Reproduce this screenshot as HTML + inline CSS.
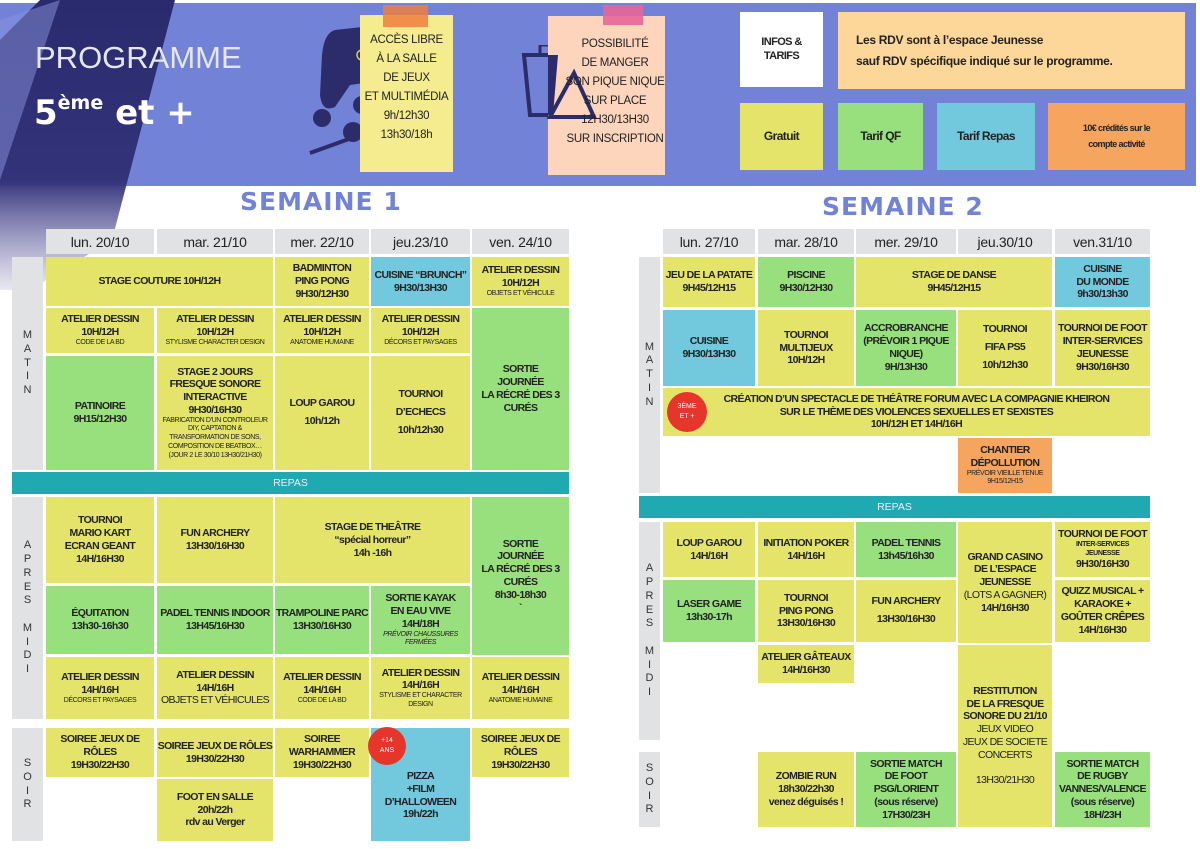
<!DOCTYPE html>
<html><head><meta charset="utf-8"><style>
*{margin:0;padding:0;box-sizing:border-box}
body{width:1200px;height:849px;position:relative;overflow:hidden;background:#fff;font-family:"Liberation Sans",sans-serif}
.a{position:absolute}
.c{position:absolute;display:flex;flex-direction:column;justify-content:center;align-items:center;text-align:center;font-weight:bold;font-size:10.5px;letter-spacing:-0.6px;line-height:1.22;color:#222}
.s{font-size:7px;font-weight:normal;letter-spacing:-0.4px}
.y{background:#e5e46a}.g{background:#98e07e}.b{background:#72c9dd}.o{background:#f5a55d}
.h{position:absolute;background:#e0e2e3;display:flex;align-items:center;justify-content:center;font-size:14px;letter-spacing:-0.3px;color:#222;top:229px;height:25px}
.side{position:absolute;background:#e0e2e3;display:flex;align-items:center;justify-content:center;text-align:center;font-size:11px;line-height:1.25;color:#333}
.rep{position:absolute;background:#1fa9b0;color:#eef;font-size:10.5px;display:flex;align-items:center;justify-content:center}
.note{position:absolute;font-size:11.5px;letter-spacing:-0.3px;line-height:19px;text-align:center;color:#222}
.sem{position:absolute;font-family:"DejaVu Sans",sans-serif;font-weight:900;font-size:25px;color:#7282d6;letter-spacing:1px}
.red{position:absolute;border-radius:50%;background:#e6362b;color:#fff;font-size:7px;display:flex;align-items:center;justify-content:center;text-align:center;line-height:1.5}
</style></head><body>
<div class="a" style="left:0;top:3px;width:1196px;height:183px;background:#7282d6"></div>
<svg class="a" style="left:0;top:0" width="200" height="300">
<defs><linearGradient id="gg" x1="0" y1="0" x2="0" y2="1"><stop offset="0" stop-color="#2a2a6e"/><stop offset="0.62" stop-color="#33337a"/><stop offset="1" stop-color="#6a67a8" stop-opacity="0.15"/></linearGradient></defs>
<polygon points="40,0 175,0 112,240 30,290 0,290 0,40" fill="url(#gg)"/>
<polygon points="0,20 60,0 0,180" fill="#8a93de" opacity="0.5"/>
</svg>
<div class="a" style="left:35px;top:40px;font-size:31px;color:#e4e6f2">PROGRAMME</div>
<div class="a" style="left:34px;top:92px;font-family:'DejaVu Sans',sans-serif;font-weight:bold;font-size:34px;color:#fff">5<sup style="font-size:19px;vertical-align:15px">ème</sup> et +</div>
<svg class="a" style="left:300px;top:15px" width="120" height="150">
<path d="M35,15 L80,10 Q95,8 100,30 L108,70 Q110,85 98,82 L85,65 L50,70 L35,92 Q22,98 20,80 L22,40 Q24,18 35,15Z" fill="#2c2c6a"/>
<circle cx="62" cy="40" r="5" fill="none" stroke="#d9cc5a" stroke-width="1.5"/>
<circle cx="78" cy="28" r="3" fill="none" stroke="#d9cc5a"/><circle cx="84" cy="36" r="3" fill="none" stroke="#d9cc5a"/><circle cx="76" cy="40" r="3" fill="none" stroke="#d9cc5a"/>
<line x1="10" y1="138" x2="110" y2="102" stroke="#2c2c6a" stroke-width="4"/>
<circle cx="22" cy="103" r="9" fill="#2c2c6a"/><circle cx="62" cy="90" r="9" fill="#2c2c6a"/><circle cx="80" cy="103" r="9" fill="#2c2c6a"/><circle cx="53" cy="117" r="10" fill="#2c2c6a"/>
</svg>
<div class="a" style="left:360px;top:15px;width:93px;height:157px;background:#f5ec8f"></div>
<div class="a" style="left:383px;top:5px;width:45px;height:22px;background:#ef7f3f;opacity:.85"></div>
<div class="note" style="left:360px;top:31px;width:93px">ACCÈS LIBRE<br>À LA SALLE<br>DE JEUX<br>ET MULTIMÉDIA<br>9h/12h30<br>13h30/18h</div>
<svg class="a" style="left:518px;top:45px" width="80" height="80">
<path d="M6,10 H40 L35,70 H12Z" fill="none" stroke="#2c2c6a" stroke-width="4"/>
<path d="M22,10 V0 H36" fill="none" stroke="#2c2c6a" stroke-width="3"/>
</svg>
<div class="a" style="left:548px;top:16px;width:117px;height:159px;background:#fdd5bd"></div>
<div class="a" style="left:603px;top:5px;width:40px;height:20px;background:#e8659a;opacity:.9"></div>
<svg class="a" style="left:518px;top:45px" width="80" height="80">
<path d="M30,10 L40,10 L35,70 H30Z" fill="#2c2c6a"/>
<path d="M32,72 L56,28 L76,72Z" fill="#fdd5bd" stroke="#2c2c6a" stroke-width="4"/>
</svg>
<div class="note" style="left:560px;top:35px;width:110px">POSSIBILITÉ<br>DE MANGER<br>SON PIQUE NIQUE<br>SUR PLACE<br>12H30/13H30<br>SUR INSCRIPTION</div>
<div class="c" style="left:740px;top:12px;width:83px;height:75px;background:#fff;font-size:11px">INFOS &amp;<br>TARIFS</div>
<div class="c" style="left:838px;top:12px;width:347px;height:77px;background:#fdd799;align-items:flex-start;padding-left:18px;text-align:left;font-size:12px;line-height:1.7;letter-spacing:-0.3px">Les RDV sont à l’espace Jeunesse<br>sauf RDV spécifique indiqué sur le programme.</div>
<div class="c y" style="left:740px;top:103px;width:83px;height:67px;font-size:12px">Gratuit</div>
<div class="c g" style="left:838px;top:103px;width:85px;height:67px;font-size:12px">Tarif QF</div>
<div class="c b" style="left:937px;top:103px;width:98px;height:67px;font-size:12px">Tarif Repas</div>
<div class="c o" style="left:1048px;top:103px;width:137px;height:67px;font-size:9px;line-height:1.7">10€ crédités sur le<br>compte activité</div>
<div class="sem" style="left:240px;top:187px">SEMAINE 1</div>
<div class="sem" style="left:822px;top:192px">SEMAINE 2</div>

<div class="h" style="left:46px;width:108px">lun. 20/10</div>
<div class="h" style="left:157px;width:116px">mar. 21/10</div>
<div class="h" style="left:275px;width:94px">mer. 22/10</div>
<div class="h" style="left:371px;width:99px">jeu.23/10</div>
<div class="h" style="left:472px;width:97px">ven. 24/10</div>
<div class="side" style="left:12px;top:257px;width:31px;height:213px">M<br>A<br>T<br>I<br>N</div>
<div class="c y" style="left:46px;top:257px;width:227px;height:49px">STAGE COUTURE 10H/12H</div>
<div class="c y" style="left:275px;top:257px;width:94px;height:49px">BADMINTON<br>PING PONG<br>9H30/12H30</div>
<div class="c b" style="left:371px;top:257px;width:99px;height:49px">CUISINE “BRUNCH”<br>9H30/13H30</div>
<div class="c y" style="left:472px;top:257px;width:97px;height:49px">ATELIER DESSIN<br>10H/12H<span class="s">OBJETS ET VÉHICULE</span></div>
<div class="c y" style="left:46px;top:308px;width:108px;height:45px">ATELIER DESSIN<br>10H/12H<span class="s">CODE DE LA BD</span></div>
<div class="c y" style="left:157px;top:308px;width:116px;height:45px">ATELIER DESSIN<br>10H/12H<span class="s">STYLISME CHARACTER DESIGN</span></div>
<div class="c y" style="left:275px;top:308px;width:94px;height:45px">ATELIER DESSIN<br>10H/12H<span class="s">ANATOMIE HUMAINE</span></div>
<div class="c y" style="left:371px;top:308px;width:99px;height:45px">ATELIER DESSIN<br>10H/12H<span class="s">DÉCORS ET PAYSAGES</span></div>
<div class="c g" style="left:472px;top:308px;width:97px;height:162px">SORTIE<br>JOURNÉE<br>LA RÉCRÉ DES 3<br>CURÉS</div>
<div class="c g" style="left:46px;top:356px;width:108px;height:114px">PATINOIRE<br>9H15/12H30</div>
<div class="c y" style="left:157px;top:356px;width:116px;height:114px">STAGE 2 JOURS<br>FRESQUE SONORE<br>INTERACTIVE<br>9H30/16H30<span class="s" style="line-height:1.25">FABRICATION D’UN CONTROLEUR<br>DIY, CAPTATION &amp;<br>TRANSFORMATION DE SONS,<br>COMPOSITION DE BEATBOX…<br>(JOUR 2 LE 30/10 13H30/21H30)</span></div>
<div class="c y" style="left:275px;top:356px;width:94px;height:114px;line-height:1.7">LOUP GAROU<br>10h/12h</div>
<div class="c y" style="left:371px;top:356px;width:99px;height:114px;line-height:1.7">TOURNOI<br>D’ECHECS<br>10h/12h30</div>
<div class="rep" style="left:12px;top:472px;width:557px;height:22px">REPAS</div>
<div class="side" style="left:12px;top:497px;width:31px;height:222px">A<br>P<br>R<br>E<br>S<br><br>M<br>I<br>D<br>I</div>
<div class="c y" style="left:46px;top:497px;width:108px;height:86px">TOURNOI<br>MARIO KART<br>ECRAN GEANT<br>14H/16H30</div>
<div class="c y" style="left:157px;top:497px;width:116px;height:86px">FUN ARCHERY<br>13H30/16H30</div>
<div class="c y" style="left:275px;top:497px;width:195px;height:86px;justify-content:flex-start;padding-top:24px">STAGE DE THEÂTRE<br>“spécial horreur”<br>14h -16h</div>
<div class="c g" style="left:472px;top:497px;width:97px;height:158px">SORTIE<br>JOURNÉE<br>LA RÉCRÉ DES 3<br>CURÉS<br>8h30-18h30<br>`</div>
<div class="c g" style="left:46px;top:586px;width:108px;height:68px">ÉQUITATION<br>13h30-16h30</div>
<div class="c g" style="left:157px;top:586px;width:116px;height:68px">PADEL TENNIS INDOOR<br>13H45/16H30</div>
<div class="c g" style="left:275px;top:586px;width:94px;height:68px">TRAMPOLINE PARC<br>13H30/16H30</div>
<div class="c g" style="left:371px;top:586px;width:99px;height:68px">SORTIE KAYAK<br>EN EAU VIVE<br>14H/18H<span class="s" style="font-style:italic">PRÉVOIR CHAUSSURES<br>FERMÉES</span></div>
<div class="c y" style="left:46px;top:657px;width:108px;height:62px">ATELIER DESSIN<br>14H/16H<span class="s">DÉCORS ET PAYSAGES</span></div>
<div class="c y" style="left:157px;top:657px;width:116px;height:62px">ATELIER DESSIN<br>14H/16H<br><span style="font-weight:normal">OBJETS ET VÉHICULES</span></div>
<div class="c y" style="left:275px;top:657px;width:94px;height:62px">ATELIER DESSIN<br>14H/16H<span class="s">CODE DE LA BD</span></div>
<div class="c y" style="left:371px;top:657px;width:99px;height:62px">ATELIER DESSIN<br>14H/16H<span class="s">STYLISME ET CHARACTER<br>DESIGN</span></div>
<div class="c y" style="left:472px;top:657px;width:97px;height:62px">ATELIER DESSIN<br>14H/16H<span class="s">ANATOMIE HUMAINE</span></div>
<div class="side" style="left:12px;top:728px;width:31px;height:113px">S<br>O<br>I<br>R</div>
<div class="c y" style="left:46px;top:728px;width:108px;height:49px">SOIREE JEUX DE RÔLES<br>19H30/22H30</div>
<div class="c y" style="left:157px;top:728px;width:116px;height:49px">SOIREE JEUX DE RÔLES<br>19H30/22H30</div>
<div class="c y" style="left:275px;top:728px;width:94px;height:49px">SOIREE<br>WARHAMMER<br>19H30/22H30</div>
<div class="c b" style="left:371px;top:728px;width:99px;height:113px;padding-top:22px">PIZZA<br>+FILM<br>D’HALLOWEEN<br>19h/22h</div>
<div class="c y" style="left:472px;top:728px;width:97px;height:49px">SOIREE JEUX DE<br>RÔLES<br>19H30/22H30</div>
<div class="c y" style="left:157px;top:779px;width:116px;height:62px">FOOT EN SALLE<br>20h/22h<br>rdv au Verger</div>
<div class="red" style="left:368px;top:727px;width:38px;height:38px">+14<br>ANS</div>

<div class="h" style="left:663px;width:92px">lun. 27/10</div>
<div class="h" style="left:758px;width:96px">mar. 28/10</div>
<div class="h" style="left:856px;width:100px">mer. 29/10</div>
<div class="h" style="left:958px;width:94px">jeu.30/10</div>
<div class="h" style="left:1055px;width:95px">ven.31/10</div>
<div class="side" style="left:639px;top:257px;width:21px;height:236px">M<br>A<br>T<br>I<br>N</div>
<div class="c y" style="left:663px;top:257px;width:92px;height:50px">JEU DE LA PATATE<br>9H45/12H15</div>
<div class="c g" style="left:758px;top:257px;width:96px;height:50px">PISCINE<br>9H30/12H30</div>
<div class="c y" style="left:856px;top:257px;width:196px;height:50px">STAGE DE DANSE<br>9H45/12H15</div>
<div class="c b" style="left:1055px;top:257px;width:95px;height:50px">CUISINE<br>DU MONDE<br>9h30/13h30</div>
<div class="c b" style="left:663px;top:310px;width:92px;height:76px">CUISINE<br>9H30/13H30</div>
<div class="c y" style="left:758px;top:310px;width:96px;height:76px">TOURNOI<br>MULTIJEUX<br>10H/12H</div>
<div class="c g" style="left:856px;top:310px;width:100px;height:76px">ACCROBRANCHE<br>(PRÉVOIR 1 PIQUE<br>NIQUE)<br>9H/13H30</div>
<div class="c y" style="left:958px;top:310px;width:94px;height:76px;line-height:1.7">TOURNOI<br>FIFA PS5<br>10h/12h30</div>
<div class="c y" style="left:1055px;top:310px;width:95px;height:76px">TOURNOI DE FOOT<br>INTER-SERVICES<br>JEUNESSE<br>9H30/16H30</div>
<div class="c y" style="left:663px;top:388px;width:487px;height:48px;padding-left:20px">CRÉATION D’UN SPECTACLE DE THÉÂTRE FORUM AVEC LA COMPAGNIE KHEIRON<br>SUR LE THÈME DES VIOLENCES SEXUELLES ET SEXISTES<br>10H/12H ET 14H/16H</div>
<div class="red" style="left:667px;top:392px;width:40px;height:40px">3ÈME<br>ET +</div>
<div class="c o" style="left:958px;top:438px;width:94px;height:55px">CHANTIER<br>DÉPOLLUTION<span class="s">PRÉVOIR VIEILLE TENUE<br>9H15/12H15</span></div>
<div class="rep" style="left:639px;top:496px;width:511px;height:22px">REPAS</div>
<div class="side" style="left:639px;top:522px;width:21px;height:218px">A<br>P<br>R<br>E<br>S<br><br>M<br>I<br>D<br>I</div>
<div class="c y" style="left:663px;top:522px;width:92px;height:55px">LOUP GAROU<br>14H/16H</div>
<div class="c y" style="left:758px;top:522px;width:96px;height:55px">INITIATION POKER<br>14H/16H</div>
<div class="c g" style="left:856px;top:522px;width:100px;height:55px">PADEL TENNIS<br>13h45/16h30</div>
<div class="c y" style="left:958px;top:522px;width:94px;height:121px">GRAND CASINO<br>DE L’ESPACE<br>JEUNESSE<br><span style="font-weight:normal">(LOTS A GAGNER)</span>14H/16H30</div>
<div class="c y" style="left:1055px;top:522px;width:95px;height:55px">TOURNOI DE FOOT<span class="s" style="font-weight:bold">INTER-SERVICES<br>JEUNESSE</span>9H30/16H30</div>
<div class="c g" style="left:663px;top:580px;width:92px;height:62px">LASER GAME<br>13h30-17h</div>
<div class="c y" style="left:758px;top:580px;width:96px;height:62px">TOURNOI<br>PING PONG<br>13H30/16H30</div>
<div class="c y" style="left:856px;top:580px;width:100px;height:62px;line-height:1.7">FUN ARCHERY<br>13H30/16H30</div>
<div class="c y" style="left:1055px;top:580px;width:95px;height:62px">QUIZZ MUSICAL +<br>KARAOKE +<br>GOÛTER CRÊPES<br>14H/16H30</div>
<div class="c y" style="left:758px;top:645px;width:96px;height:38px">ATELIER GÂTEAUX<br>14H/16H30</div>
<div class="c y" style="left:958px;top:645px;width:94px;height:182px">RESTITUTION<br>DE LA FRESQUE<br>SONORE DU 21/10<span style="font-weight:normal">JEUX VIDEO<br>JEUX DE SOCIETE<br>CONCERTS<br><br>13H30/21H30</span></div>
<div class="side" style="left:639px;top:752px;width:21px;height:75px">S<br>O<br>I<br>R</div>
<div class="c y" style="left:758px;top:752px;width:96px;height:75px">ZOMBIE RUN<br>18h30/22h30<br>venez déguisés !</div>
<div class="c g" style="left:856px;top:752px;width:100px;height:75px">SORTIE MATCH<br>DE FOOT<br>PSG/LORIENT<br>(sous réserve)<br>17H30/23H</div>
<div class="c g" style="left:1055px;top:752px;width:95px;height:75px">SORTIE MATCH<br>DE RUGBY<br>VANNES/VALENCE<br>(sous réserve)<br>18H/23H</div>
</body></html>
